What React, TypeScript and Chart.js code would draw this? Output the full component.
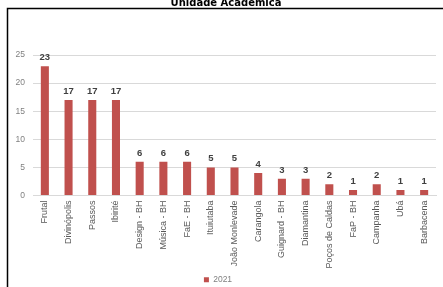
import React, { useEffect, useRef } from "react";
import { Chart, registerables } from "chart.js";

Chart.register(...registerables);

const categories = [
  "Frutal", "Divinópolis", "Passos", "Ibirité", "Design - BH", "Música - BH", "FaE - BH",
  "Ituiutaba", "João Monlevade", "Carangola", "Guignard - BH", "Diamantina",
  "Poços de Caldas", "FaP - BH", "Campanha", "Ubá", "Barbacena",
];
const values2021 = [23, 17, 17, 17, 6, 6, 6, 5, 5, 4, 3, 3, 2, 1, 2, 1, 1];
const yTicks = [0, 5, 10, 15, 20, 25];
const seriesLabel = "2021";
const titleText = "Unidade Acadêmica";

const BAR = "#C0504D";
const FONT = "'Liberation Sans', Arial, sans-serif";

const framePlugin = {
  id: "frame",
  beforeDraw(chart: any) {
    const ctx = chart.ctx;
    ctx.save();
    ctx.fillStyle = "#fff";
    ctx.fillRect(0, 0, chart.width, chart.height);
    ctx.strokeStyle = "#000";
    ctx.lineWidth = 1.5;
    ctx.beginPath();
    ctx.moveTo(chart.width + 5, 8.5);
    ctx.lineTo(7.5, 8.5);
    ctx.lineTo(7.5, chart.height + 5);
    ctx.stroke();
    ctx.fillStyle = "#000";
    ctx.font = "bold 10px 'DejaVu Sans', sans-serif";
    ctx.textAlign = "center";
    ctx.textBaseline = "alphabetic";
    ctx.fillText(titleText, 226, 5.5);
    ctx.restore();
  },
};

const valueLabelPlugin = {
  id: "valueLabels",
  afterDatasetsDraw(chart: any) {
    const ctx = chart.ctx;
    ctx.save();
    ctx.fillStyle = "#404040";
    ctx.font = "bold 9.5px " + FONT;
    ctx.textAlign = "center";
    ctx.textBaseline = "bottom";
    chart.data.datasets.forEach((ds: any, di: number) => {
      const meta = chart.getDatasetMeta(di);
      meta.data.forEach((el: any, i: number) => {
        ctx.fillText(String(ds.data[i]), el.x, el.y - 4);
      });
    });
    ctx.restore();
  },
};

export default function App() {
  const ref = useRef<HTMLCanvasElement>(null);
  useEffect(() => {
    if (!ref.current) return;
    const chart = new Chart(ref.current, {
      type: "bar",
      data: {
        labels: categories,
        datasets: [
          {
            label: seriesLabel,
            data: values2021,
            backgroundColor: BAR,
            barPercentage: 0.34,
            categoryPercentage: 1,
          },
        ],
      },
      options: {
        animation: false,
        responsive: false,
        maintainAspectRatio: false,
        layout: { padding: { top: 55, right: 7, left: 0, bottom: 2 } },
        plugins: {
          legend: {
            position: "bottom",
            labels: {
              boxWidth: 5,
              boxHeight: 5,
              padding: 4,
              color: "#808080",
              font: { size: 8.5, family: FONT },
            },
          },
          tooltip: { enabled: false },
          title: { display: false },
        },
        scales: {
          x: {
            grid: { display: false, drawTicks: false },
            border: { display: true, color: "#D9D9D9" },
            ticks: {
              color: "#595959",
              font: { size: 9, family: FONT },
              maxRotation: 90,
              minRotation: 90,
              autoSkip: false,
              padding: 5,
            },
            afterFit(scale: any) {
              scale.height = 76;
            },
          },
          y: {
            min: 0,
            max: 25,
            afterBuildTicks(scale: any) {
              scale.ticks = yTicks.map((v) => ({ value: v }));
            },
            grid: { color: "#D9D9D9", drawTicks: false },
            border: { display: false },
            ticks: {
              color: "#808080",
              font: { size: 8.5, family: FONT },
              padding: 8,
            },
            afterFit(scale: any) {
              scale.width = 33;
            },
          },
        },
      },
      plugins: [framePlugin, valueLabelPlugin],
    });
    return () => chart.destroy();
  }, []);
  return (
    <div style={{ position: "fixed", left: 0, top: 0, width: 443, height: 287, background: "#fff", overflow: "hidden" }}>
      <canvas ref={ref} width={443} height={296} style={{ display: "block" }} />
    </div>
  );
}
